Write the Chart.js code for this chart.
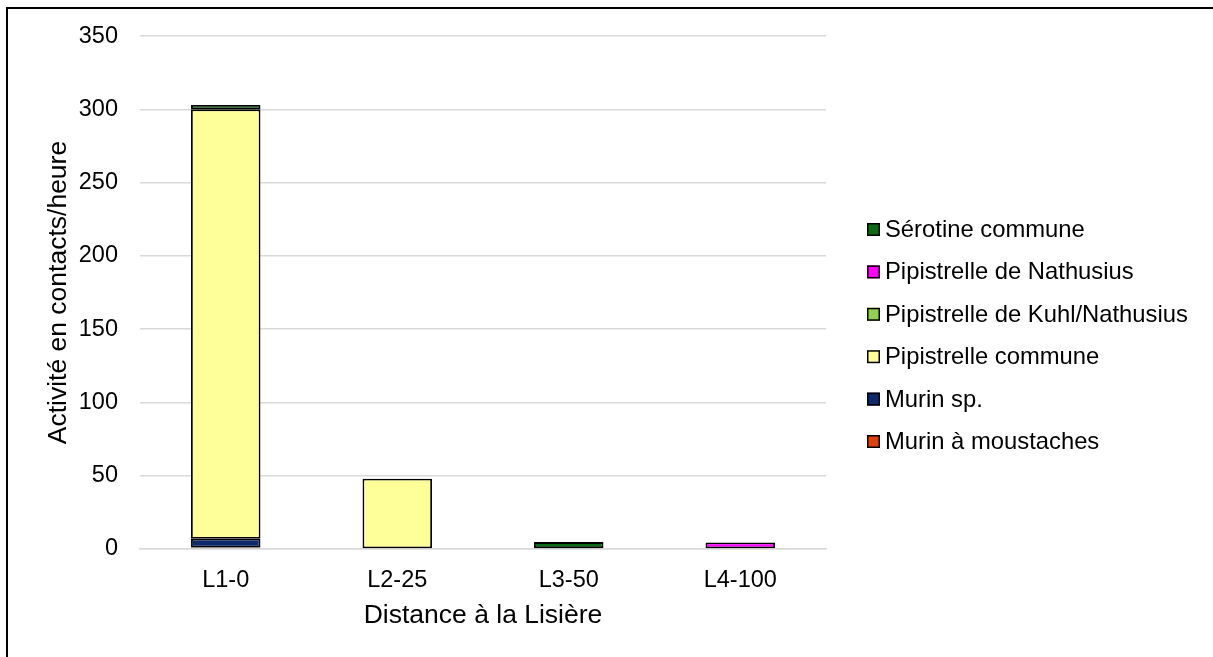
<!DOCTYPE html>
<html lang="fr">
<head>
<meta charset="utf-8">
<title>Activité par distance à la lisière</title>
<script src="https://cdn.jsdelivr.net/npm/chart.js@4/dist/chart.umd.min.js"></script>
<style>
  html, body { margin: 0; padding: 0; background: #fff; }
  #cadre { width: 1213px; height: 657px; }
</style>
</head>
<body>
<div id="cadre"><canvas id="graphique" width="1213" height="657"></canvas></div>
<script>
// Points d'écoute, de la lisière vers l'intérieur
const points = ['L1-0', 'L2-25', 'L3-50', 'L4-100'];

// Activité (contacts/heure) par espèce, empilée de bas en haut
const murinMoustaches   = [1, null, null, null];
const murinSp           = [6, null, null, null];
const pipCommune        = [293, 48, null, null];
const pipKuhlNathusius  = [null, null, 0.7, null];
const pipNathusius      = [null, null, null, 4.5];
const serotineCommune   = [3, null, 4, null];

const especes = [
  'Murin à moustaches', 'Murin sp.', 'Pipistrelle commune',
  'Pipistrelle de Kuhl/Nathusius', 'Pipistrelle de Nathusius', 'Sérotine commune'
];
const series = [murinMoustaches, murinSp, pipCommune, pipKuhlNathusius, pipNathusius, serotineCommune];
const couleurs = ['#E0400C', '#0A2A6B', '#FFFF99', '#92D050', '#FF00FF', '#0A6B14'];

const axeY = { min: 0, max: 350, pas: 50 };

const police = "'Liberation Sans', Arial, sans-serif";

// Cadre noir autour du graphique et fond blanc
const cadre = {
  id: 'cadre',
  beforeDraw(chart) {
    const ctx = chart.ctx;
    ctx.save();
    ctx.fillStyle = '#fff';
    ctx.fillRect(0, 0, chart.width, chart.height);
    ctx.strokeStyle = '#000';
    ctx.lineWidth = 2;
    ctx.beginPath();
    ctx.moveTo(7, chart.height + 5);
    ctx.lineTo(7, 8);
    ctx.lineTo(chart.width + 5, 8);
    ctx.stroke();
    ctx.restore();
  }
};

// Légende à droite, dans l'ordre inverse de l'empilement
const legendeDroite = {
  id: 'legendeDroite',
  afterDraw(chart) {
    const ctx = chart.ctx;
    const area = chart.chartArea;
    const items = chart.data.datasets.map((d, i) => ({ d, i })).reverse();
    const pasLigne = 42.4;
    const cote = 13;
    const x0 = area.right + 41;
    const centre = chart.height / 2 + 7;
    const y0 = centre - pasLigne * (items.length - 1) / 2;
    ctx.save();
    ctx.font = '23.8px ' + police;
    ctx.textBaseline = 'alphabetic';
    ctx.textAlign = 'left';
    items.forEach((it, k) => {
      const yc = y0 + k * pasLigne;
      ctx.fillStyle = it.d.backgroundColor;
      ctx.fillRect(x0, yc - cote / 2, cote, cote);
      ctx.strokeStyle = '#000';
      ctx.lineWidth = 1.5;
      ctx.strokeRect(x0 + 0.75, yc - cote / 2 + 0.75, cote - 1.5, cote - 1.5);
      ctx.fillStyle = '#000';
      ctx.fillText(it.d.label, x0 + cote + 5, yc + 7.5);
    });
    ctx.restore();
  }
};

new Chart(document.getElementById('graphique'), {
  type: 'bar',
  data: {
    labels: points,
    datasets: series.map((valeurs, i) => ({
      label: especes[i],
      data: valeurs,
      backgroundColor: couleurs[i],
      borderColor: '#000',
      borderWidth: 1.8,
      borderSkipped: false,
      categoryPercentage: 1,
      barPercentage: 0.405
    }))
  },
  options: {
    responsive: false,
    animation: false,
    layout: { padding: { left: 39, right: 387, top: 36, bottom: 21 } },
    plugins: {
      legend: { display: false },
      tooltip: { enabled: false }
    },
    scales: {
      x: {
        stacked: true,
        grid: { display: false, drawTicks: false },
        border: { display: true, color: '#D9D9D9', width: 1.5 },
        ticks: { color: '#000', padding: 17, font: { family: police, size: 23.5 } },
        title: {
          display: true, text: 'Distance à la Lisière', color: '#000',
          font: { family: police, size: 26.5 }, padding: { top: 4, bottom: 4 }
        },
        afterFit(s) { s.height = 87; }
      },
      y: {
        stacked: true,
        min: axeY.min, max: axeY.max,
        grid: { color: '#D9D9D9', lineWidth: 1.5, drawTicks: false },
        border: { display: false },
        ticks: { stepSize: axeY.pas, color: '#000', padding: 22, font: { family: police, size: 23.5 } },
        title: {
          display: true, text: 'Activité en contacts/heure', color: '#000',
          font: { family: police, size: 26.5 }, padding: { top: 4, bottom: 4 }
        },
        afterFit(s) { s.width = 101; }
      }
    }
  },
  plugins: [cadre, legendeDroite]
});
</script>
</body>
</html>
